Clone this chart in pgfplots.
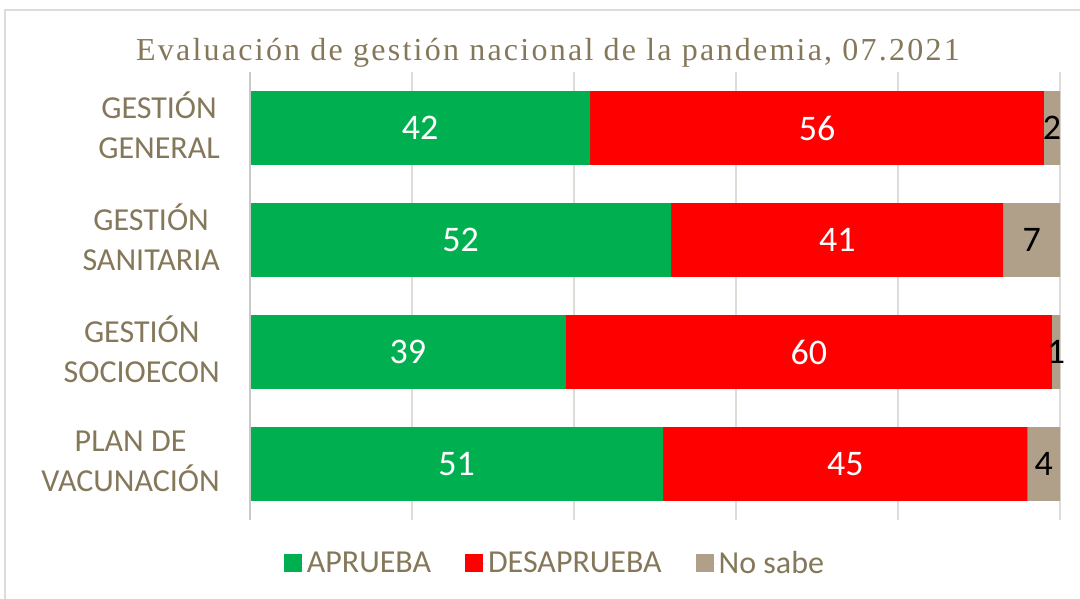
\documentclass[border=0pt]{standalone}
\usepackage{pgfplots}
\pgfplotsset{compat=1.18}
\usepackage{fontspec}
\setmainfont{Carlito}
\newfontfamily\titlefont[LetterSpace=7]{Liberation Serif}
\definecolor{cgreen}{RGB}{0,176,80}
\definecolor{cred}{RGB}{255,0,0}
\definecolor{ctan}{RGB}{176,160,138}
\definecolor{cbrown}{RGB}{133,120,90}
\definecolor{cgrid}{RGB}{222,220,214}
\begin{document}
\begin{tikzpicture}
\path[use as bounding box] (0pt,0pt) rectangle (1080pt,-599pt);
\draw[cgrid, line width=1.5pt] (5pt,-599pt) -- (5pt,-10pt) -- (1080pt,-10pt);
\node[anchor=base, text=cbrown, font=\titlefont\fontsize{32}{36}\selectfont] at (548pt,-61pt) {Evaluación de gestión nacional de la pandemia, 07.2021};
\begin{axis}[
  at={(250pt,-520pt)}, anchor=south west,
  scale only axis, width=810pt, height=448pt,
  xbar stacked, bar width=0.66,
  xmin=0, xmax=100, ymin=-0.5, ymax=3.5, y dir=reverse,
  axis line style={draw=none},
  xtick={0,20,40,60,80,100}, xticklabels={},
  xmajorgrids, major grid style={cgrid, line width=1.2pt},
  major tick length=0pt,
  ytick={0,1,2,3},
  yticklabels={{GESTIÓN\\GENERAL},{GESTIÓN\\SANITARIA},{GESTIÓN\\SOCIOECON},{PLAN DE\\VACUNACIÓN}},
  yticklabel style={align=center, anchor=east, inner sep=0pt, xshift=-30pt, yshift=2.5pt, text=cbrown, font=\fontsize{32}{40}\selectfont},
  legend style={at={(0.3765,-0.096)}, anchor=center, draw=none, fill=none, legend columns=-1,
    font=\fontsize{32}{36}\selectfont, text=cbrown,
    /tikz/every even column/.append style={column sep=32pt}},
  legend image code/.code={\fill[#1] (0pt,-9pt) rectangle (18pt,9pt); \path (0pt,0pt) -- (21pt,0pt);},
  clip=false,
]
\addplot[fill=cgreen, draw=none] coordinates {(42,0) (52,1) (39,2) (51,3)};
\addplot[fill=cred, draw=none] coordinates {(56,0) (41,1) (60,2) (45,3)};
\addplot[fill=ctan, draw=none] coordinates {(2,0) (7,1) (1,2) (4,3)};
\legend{APRUEBA, DESAPRUEBA, No sabe}
\end{axis}
\begin{axis}[
  at={(250pt,-520pt)}, anchor=south west,
  scale only axis, width=810pt, height=448pt,
  xmin=0, xmax=100, ymin=-0.5, ymax=3.5, y dir=reverse,
  hide axis, clip=false,
]
\draw[cgrid!80!gray, line width=1.2pt] (axis cs:0,-0.5) -- (axis cs:0,3.5);
\addplot[only marks, mark=none, nodes near coords, point meta=explicit symbolic,
  every node near coord/.style={anchor=center, text=white, font=\fontsize{36}{40}\selectfont}]
  coordinates {(21,0)[42] (26,1)[52] (19.5,2)[39] (25.5,3)[51]};
\addplot[only marks, mark=none, nodes near coords, point meta=explicit symbolic,
  every node near coord/.style={anchor=center, text=white, font=\fontsize{36}{40}\selectfont}]
  coordinates {(70,0)[56] (72.5,1)[41] (69,2)[60] (73.5,3)[45]};
\addplot[only marks, mark=none, nodes near coords, point meta=explicit symbolic,
  every node near coord/.style={anchor=center, text=black, font=\fontsize{36}{40}\selectfont}]
  coordinates {(99,0)[2] (96.5,1)[7] (99.5,2)[1] (98,3)[4]};
\end{axis}
\end{tikzpicture}
\end{document}
